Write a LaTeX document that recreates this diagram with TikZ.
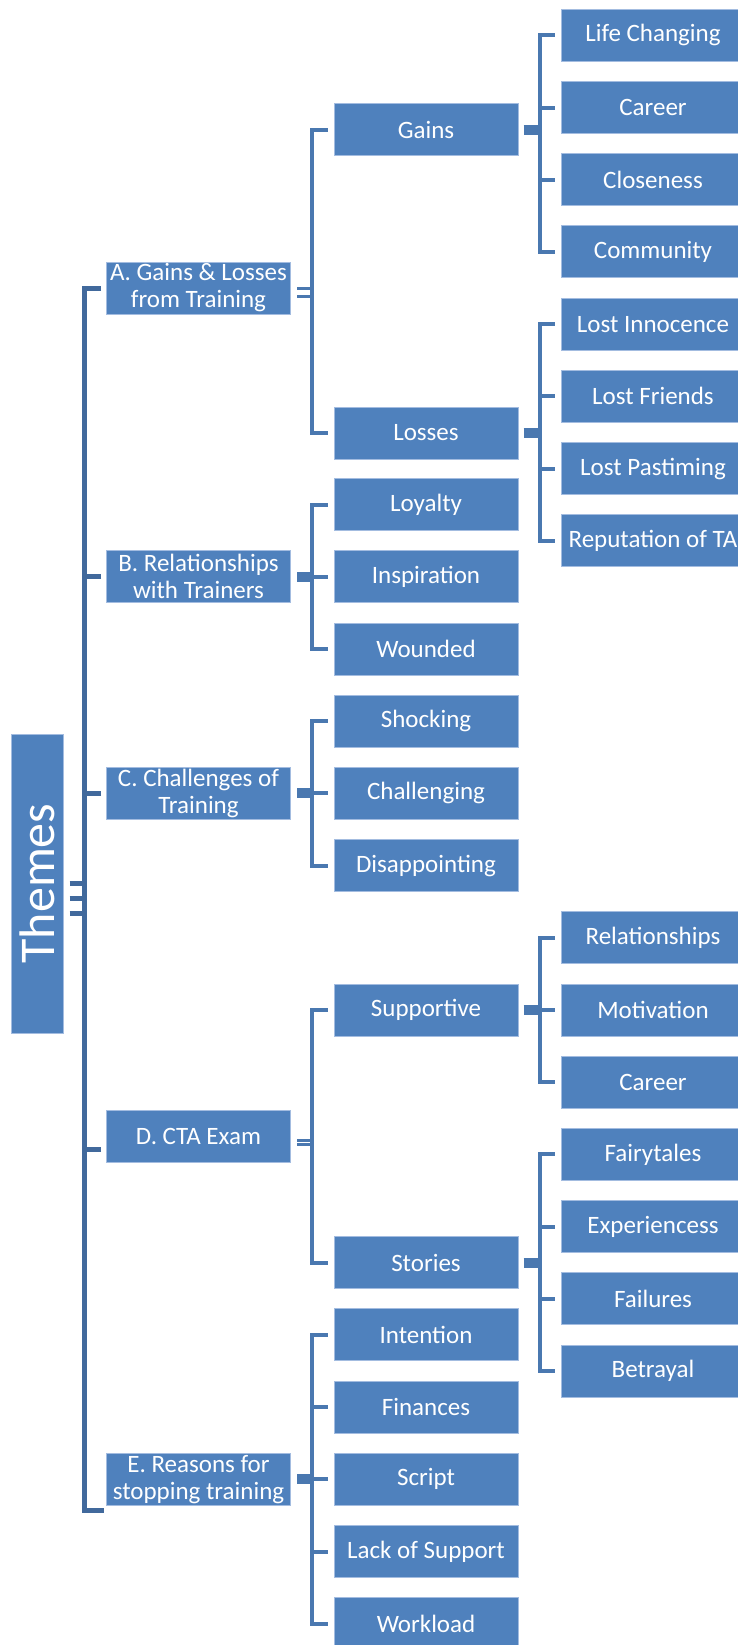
\documentclass[tikz,border=0pt]{standalone}
\usepackage{fontspec}
\usepackage{graphicx}
\setmainfont{Carlito}
\definecolor{boxblue}{HTML}{4F81BD}
\definecolor{boxedge}{HTML}{A3BCE0}
\definecolor{linkblue}{HTML}{4A78B0}
\definecolor{trunkblue}{HTML}{41699C}

\begin{document}
\begin{tikzpicture}[
            x=0.5pt, y=-0.5pt,
            box/.style={rectangle, draw=boxedge, fill=boxblue, line width=0.5pt, minimum width=92pt, minimum height=26pt, inner sep=0pt, text=white, font=\fontsize{12.5}{13.5}\selectfont, align=center},
            link/.style={draw=linkblue, line width=2pt},
            hub/.style={draw=linkblue, line width=5pt},
            trunk/.style={draw=trunkblue, line width=2.5pt},
            dbl/.style={draw=linkblue, line width=1.5pt}
        ]
            \useasboundingbox (0,0) rectangle (738,1645);

            % root
            \node[box, minimum width=26pt, minimum height=149.5pt, font=\fontsize{25}{25}\selectfont] (themes) at (37,883.5) {\rotatebox{90}{Themes}};

            % themes
            \node[box] (gainsloss) at (198.5,288) {A. Gains \& Losses\\from Training};
            \node[box] (relations) at (198.5,576.8) {B. Relationships\\with Trainers};
            \node[box] (challenges) at (198.5,793.4) {C. Challenges of\\Training};
            \node[box] (ctaexam) at (198.5,1136) {D. CTA Exam};
            \node[box] (reasons) at (198.5,1479.3) {E. Reasons for\\stopping training};

            % sub-themes
            \node[box] (gains) at (426,129.5) {Gains};
            \node[box] (losses) at (426,433) {Losses};
            \node[box] (loyalty) at (426,504.6) {Loyalty};
            \node[box] (inspiration) at (426,576.8) {Inspiration};
            \node[box] (wounded) at (426,649) {Wounded};
            \node[box] (shocking) at (426,721.2) {Shocking};
            \node[box] (challenging) at (426,793.4) {Challenging};
            \node[box] (disappoint) at (426,865.6) {Disappointing};
            \node[box] (supportive) at (426,1010) {Supportive};
            \node[box] (stories) at (426,1262.7) {Stories};
            \node[box] (intention) at (426,1334.9) {Intention};
            \node[box] (finances) at (426,1407.1) {Finances};
            \node[box] (script) at (426,1479.3) {Script};
            \node[box] (lacksupp) at (426,1551.5) {Lack of Support};
            \node[box] (workload) at (426,1623.7) {Workload};

            % third level
            \node[box] (lifechg) at (653,35.3) {Life Changing};
            \node[box] (career) at (653,107.5) {Career};
            \node[box] (closeness) at (653,179.7) {Closeness};
            \node[box] (community) at (653,251.9) {Community};
            \node[box] (lostinn) at (653,324.1) {Lost Innocence};
            \node[box] (lostfr) at (653,396.3) {Lost Friends};
            \node[box] (lostpast) at (653,468.5) {Lost Pastiming};
            \node[box] (reput) at (653,540.7) {Reputation of TA};
            \node[box] (relships) at (653,937.8) {Relationships};
            \node[box] (motiv) at (653,1010) {Motivation};
            \node[box] (careerb) at (653,1082.2) {Career};
            \node[box] (fairy) at (653,1154.4) {Fairytales};
            \node[box] (experi) at (653,1226.6) {Experiencess};
            \node[box] (failures) at (653,1298.8) {Failures};
            \node[box] (betrayal) at (653,1371) {Betrayal};

            \coordinate (trunkend) at (104,1510);

            % root to themes
            \draw[trunk, shorten <=3pt] (themes.east) -- ++(21,0);
            \draw[trunk, shorten <=3pt] ([yshift=-7.5pt]themes.east) -- ++(21,0);
            \draw[trunk, shorten <=3pt] ([yshift=-15pt]themes.east) -- ++(21,0);
            \draw[trunk, shorten <=2.5pt] (gainsloss.west) -- ++(-22,0) |- (trunkend);
            \draw[trunk, shorten <=2.5pt] (relations.west) -- ++(-22,0);
            \draw[trunk, shorten <=2.5pt] (challenges.west) -- ++(-22,0);
            \draw[trunk, shorten <=2.5pt] ([yshift=-6.5pt]ctaexam.west) -- ++(-22,0);

            % A
            \draw[dbl, shorten <=3pt] (gainsloss.east) -- ++(22,0);
            \draw[dbl, shorten <=3pt] ([yshift=-4pt]gainsloss.east) -- ++(22,0);
            \draw[link, shorten <=3pt, shorten >=3pt] (gains.west) -- ++(-22,0) |- (losses.west);
            \draw[hub, shorten <=2.5pt] (gains.east) -- ++(23,0);
            \draw[link, shorten <=3pt, shorten >=3pt] (lifechg.west) -- ++(-21,0) |- (community.west);
            \draw[link, shorten <=3pt] (career.west) -- ++(-21,0);
            \draw[link, shorten <=3pt] (closeness.west) -- ++(-21,0);
            \draw[hub, shorten <=2.5pt] (losses.east) -- ++(23,0);
            \draw[link, shorten <=3pt, shorten >=3pt] (lostinn.west) -- ++(-21,0) |- (reput.west);
            \draw[link, shorten <=3pt] (lostfr.west) -- ++(-21,0);
            \draw[link, shorten <=3pt] (lostpast.west) -- ++(-21,0);

            % B
            \draw[hub, shorten <=3pt] (relations.east) -- ++(22,0);
            \draw[link, shorten <=3pt, shorten >=3pt] (loyalty.west) -- ++(-22,0) |- (wounded.west);
            \draw[link, shorten <=3pt] (inspiration.west) -- ++(-22,0);

            % C
            \draw[hub, shorten <=3pt] (challenges.east) -- ++(22,0);
            \draw[link, shorten <=3pt, shorten >=3pt] (shocking.west) -- ++(-22,0) |- (disappoint.west);
            \draw[link, shorten <=3pt] (challenging.west) -- ++(-22,0);

            % D
            \draw[dbl, shorten <=3pt] ([yshift=-2pt]ctaexam.east) -- ++(22,0);
            \draw[dbl, shorten <=3pt] ([yshift=-4pt]ctaexam.east) -- ++(22,0);
            \draw[link, shorten <=3pt, shorten >=3pt] (supportive.west) -- ++(-22,0) |- (stories.west);
            \draw[hub, shorten <=2.5pt] (supportive.east) -- ++(23,0);
            \draw[link, shorten <=3pt, shorten >=3pt] (relships.west) -- ++(-21,0) |- (careerb.west);
            \draw[link, shorten <=3pt] (motiv.west) -- ++(-21,0);
            \draw[hub, shorten <=2.5pt] (stories.east) -- ++(23,0);
            \draw[link, shorten <=3pt, shorten >=3pt] (fairy.west) -- ++(-21,0) |- (betrayal.west);
            \draw[link, shorten <=3pt] (experi.west) -- ++(-21,0);
            \draw[link, shorten <=3pt] (failures.west) -- ++(-21,0);

            % E
            \draw[hub, shorten <=3pt] (reasons.east) -- ++(22,0);
            \draw[link, shorten <=3pt, shorten >=3pt] (intention.west) -- ++(-22,0) |- (workload.west);
            \draw[link, shorten <=3pt] (finances.west) -- ++(-22,0);
            \draw[link, shorten <=3pt] (script.west) -- ++(-22,0);
            \draw[link, shorten <=3pt] (lacksupp.west) -- ++(-22,0);
        \end{tikzpicture}
\end{document}
